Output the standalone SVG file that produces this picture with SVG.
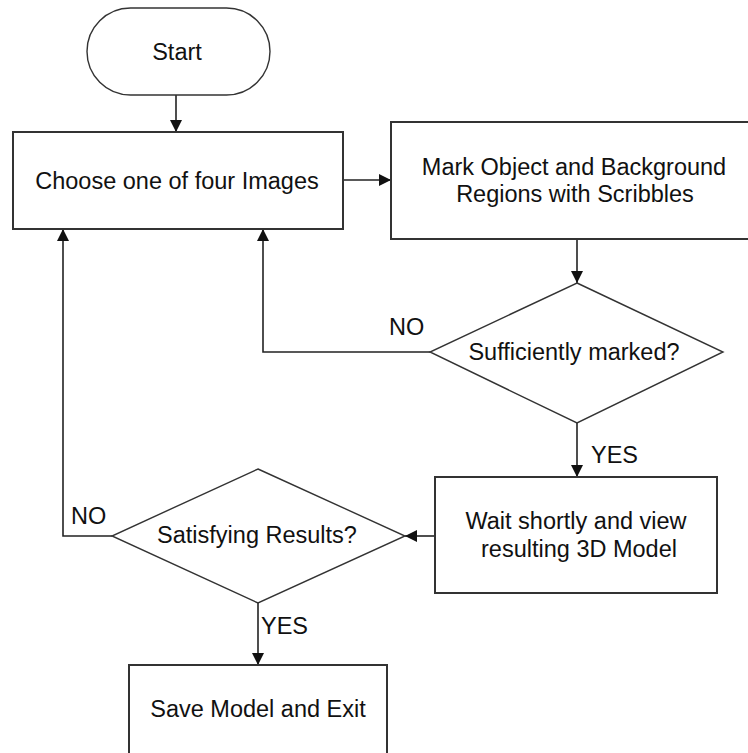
<svg xmlns="http://www.w3.org/2000/svg" width="748" height="753" viewBox="0 0 748 753">
<style>
.box{fill:#fff;stroke:#333;stroke-width:2}
.dia{fill:#fff;stroke:#333;stroke-width:1.4}
.t{font-family:"Liberation Sans",Arial,sans-serif;font-size:23.5px;fill:#111;text-anchor:middle}
.lab{font-family:"Liberation Sans",Arial,sans-serif;font-size:23.5px;fill:#111}
.c{fill:none;stroke:#222;stroke-width:1.6}
</style>
<defs>
<marker id="ah" viewBox="0 0 12 12" refX="12" refY="6" markerWidth="12" markerHeight="12" markerUnits="userSpaceOnUse" orient="auto">
<path d="M0,0 L12,6 L0,12 Z" fill="#111"/>
</marker>
</defs>
<rect width="748" height="753" fill="#fff"/>
<g id="connectors">
<path class="c" d="M176,95 L176,132" marker-end="url(#ah)"/>
<path class="c" d="M343,180 L391,180" marker-end="url(#ah)"/>
<path class="c" d="M577,239 L577,283" marker-end="url(#ah)"/>
<path class="c" d="M430,352 L263,352 L263,229" marker-end="url(#ah)"/>
<path class="c" d="M577,423 L577,477" marker-end="url(#ah)"/>
<path class="c" d="M435,536 L405,536" marker-end="url(#ah)"/>
<path class="c" d="M112,536 L63,536 L63,229" marker-end="url(#ah)"/>
<path class="c" d="M258,603 L258,665" marker-end="url(#ah)"/>
</g>
<g id="start">
<rect class="dia" x="87" y="8" width="183" height="87" rx="43.5" ry="43.5"/>
<text class="t" x="177" y="60">Start</text>
</g>
<g id="choose">
<rect class="box" x="13" y="132" width="330" height="97"/>
<text class="t" x="177" y="189">Choose one of four Images</text>
</g>
<g id="mark">
<rect class="box" x="391" y="122" width="367" height="117"/>
<text class="t" x="574" y="175">Mark Object and Background</text>
<text class="t" x="575" y="202">Regions with Scribbles</text>
</g>
<g id="sufficient">
<polygon class="dia" points="577,283 723,352 577,423 430,352"/>
<text class="t" x="574" y="360">Sufficiently marked?</text>
</g>
<g id="wait">
<rect class="box" x="435" y="477" width="282" height="116"/>
<text class="t" x="576" y="529">Wait shortly and view</text>
<text class="t" x="579" y="557">resulting 3D Model</text>
</g>
<g id="satisfying">
<polygon class="dia" points="258,469 405,536 258,603 112,536"/>
<text class="t" x="257" y="543">Satisfying Results?</text>
</g>
<g id="save">
<rect class="box" x="129" y="665" width="258" height="100"/>
<text class="t" x="258" y="717">Save Model and Exit</text>
</g>
<g id="labels">
<text class="lab" x="389" y="335">NO</text>
<text class="lab" x="591" y="463">YES</text>
<text class="lab" x="71" y="524">NO</text>
<text class="lab" x="261" y="634">YES</text>
</g>
</svg>
